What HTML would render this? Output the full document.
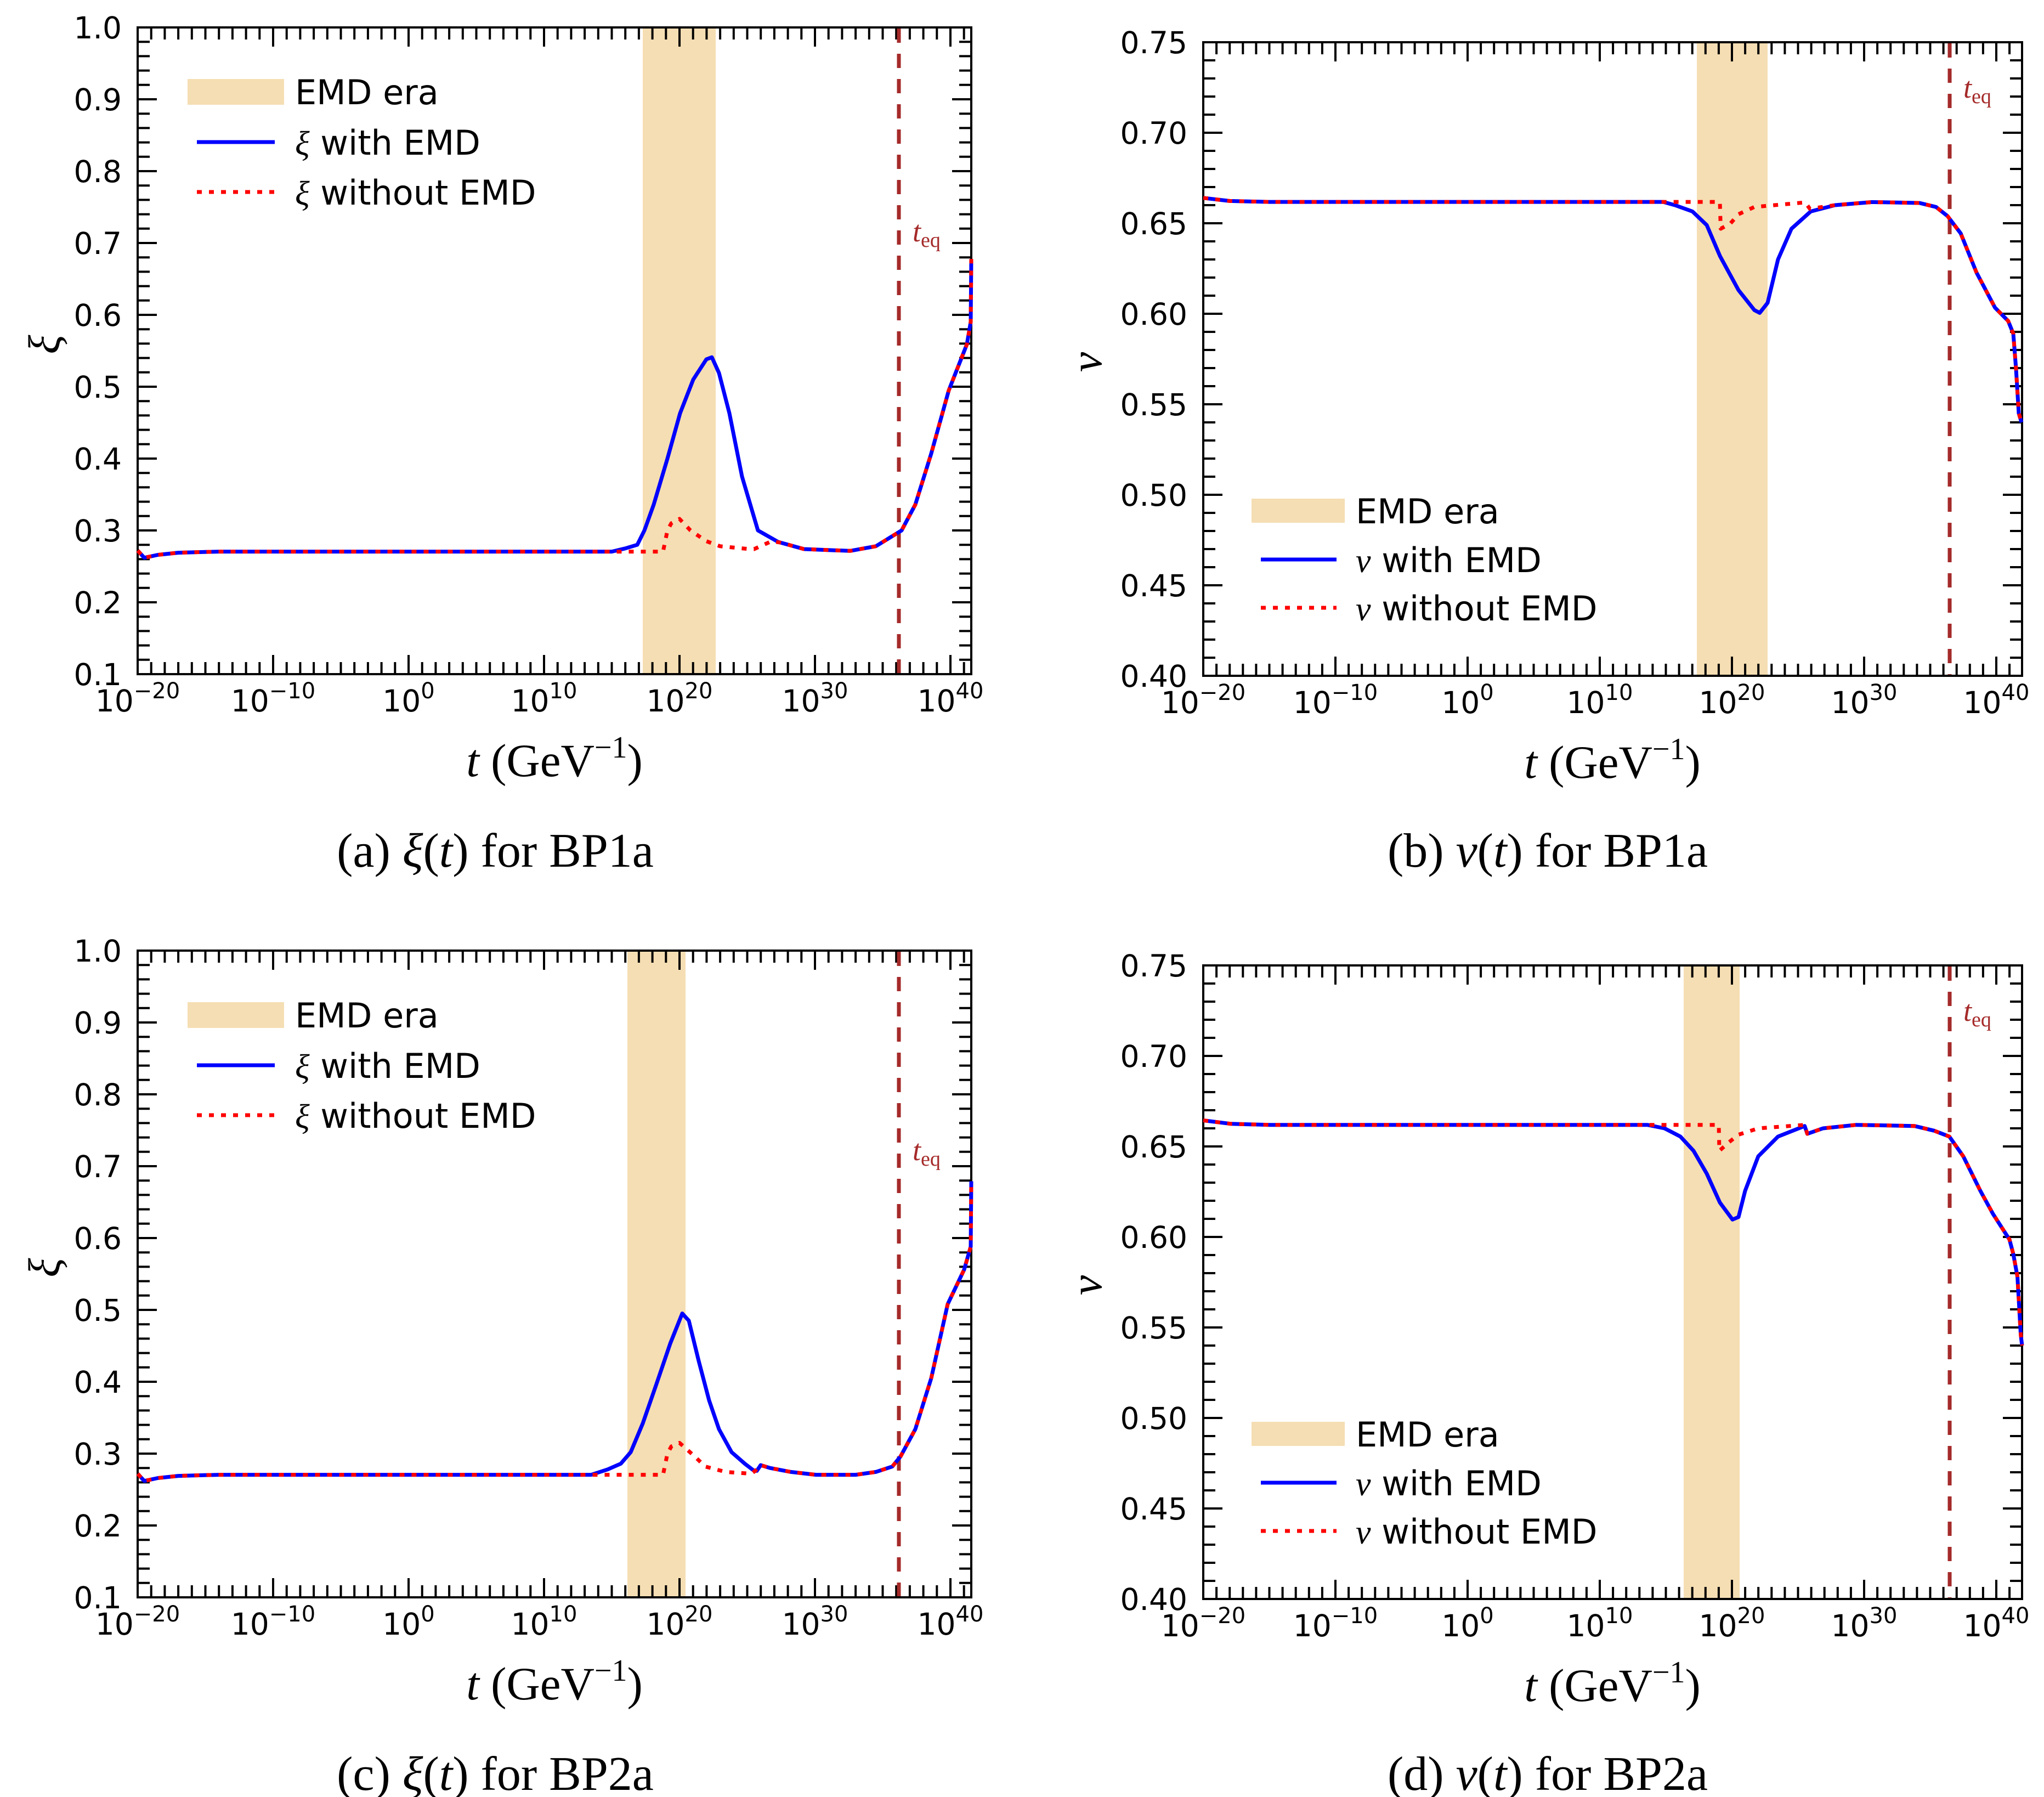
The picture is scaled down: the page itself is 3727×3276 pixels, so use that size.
<!DOCTYPE html>
<html><head><meta charset="utf-8"><style>
html,body{margin:0;padding:0;background:#fff;}
svg{display:block;}
.tk{font-family:"DejaVu Sans","Liberation Sans",sans-serif;font-size:55px;fill:#000;}
.lg{font-family:"DejaVu Sans","Liberation Sans",sans-serif;font-size:62px;fill:#000;}
.mi{font-family:"Liberation Serif","DejaVu Serif",serif;font-style:italic;}
.sf{font-family:"Liberation Serif","DejaVu Serif",serif;fill:#000;}
</style></head><body>
<svg xmlns="http://www.w3.org/2000/svg" xmlns:xlink="http://www.w3.org/1999/xlink" width="3727" height="3276" viewBox="0 0 3727 3276">
<defs>
<g id="axA">
  <path d="M251 1218H1760" stroke="#000" stroke-width="22" stroke-dasharray="4 20.7" stroke-dashoffset="2" fill="none"/>
  <path d="M251 1211.5H1760" stroke="#000" stroke-width="35" stroke-dasharray="4 243" stroke-dashoffset="2" fill="none"/>
  <path d="M251 61H1760" stroke="#000" stroke-width="22" stroke-dasharray="4 20.7" stroke-dashoffset="2" fill="none"/>
  <path d="M251 67.5H1760" stroke="#000" stroke-width="35" stroke-dasharray="4 243" stroke-dashoffset="2" fill="none"/>
  <path d="M262 1229V48" stroke="#000" stroke-width="22" stroke-dasharray="4 22.2" stroke-dashoffset="2" fill="none"/>
  <path d="M268.5 1229V48" stroke="#000" stroke-width="35" stroke-dasharray="4 127" stroke-dashoffset="2" fill="none"/>
  <path d="M1760 1229V48" stroke="#000" stroke-width="22" stroke-dasharray="4 22.2" stroke-dashoffset="2" fill="none"/>
  <path d="M1753.5 1229V48" stroke="#000" stroke-width="35" stroke-dasharray="4 127" stroke-dashoffset="2" fill="none"/>
  <rect x="251" y="50" width="1520" height="1179" fill="none" stroke="#000" stroke-width="4"/>
  <g class="tk" text-anchor="end">
    <text x="222" y="1249">0.1</text><text x="222" y="1118">0.2</text><text x="222" y="987">0.3</text>
    <text x="222" y="856">0.4</text><text x="222" y="725">0.5</text><text x="222" y="594">0.6</text>
    <text x="222" y="463">0.7</text><text x="222" y="332">0.8</text><text x="222" y="201">0.9</text>
    <text x="222" y="70">1.0</text>
  </g>
  <g class="tk" text-anchor="middle">
    <text x="251" y="1297">10<tspan font-size="40" dy="-24">−20</tspan></text>
    <text x="498" y="1297">10<tspan font-size="40" dy="-24">−10</tspan></text>
    <text x="745" y="1297">10<tspan font-size="40" dy="-24">0</tspan></text>
    <text x="992" y="1297">10<tspan font-size="40" dy="-24">10</tspan></text>
    <text x="1239" y="1297">10<tspan font-size="40" dy="-24">20</tspan></text>
    <text x="1486" y="1297">10<tspan font-size="40" dy="-24">30</tspan></text>
    <text x="1733" y="1297">10<tspan font-size="40" dy="-24">40</tspan></text>
  </g>
  <text class="sf" x="1011" y="1415" font-size="85" text-anchor="middle"><tspan font-style="italic">t</tspan> (GeV<tspan font-size="56" dy="-34">−1</tspan><tspan dy="34">)</tspan></text>
  <text class="sf mi" x="0" y="0" font-size="82" text-anchor="middle" transform="translate(108,628) rotate(-90)">ξ</text>
  <line x1="1639" y1="52" x2="1639" y2="1227" stroke="#a52a2a" stroke-width="7" stroke-dasharray="26 20"/>
  <rect x="342" y="144" width="176" height="47" fill="#f5deb3"/>
  <line x1="359" y1="259" x2="501" y2="259" stroke="#0000ff" stroke-width="7"/>
  <line x1="359" y1="350" x2="501" y2="350" stroke="#ff0000" stroke-width="7" stroke-dasharray="9 13"/>
  <text class="lg" x="538" y="190">EMD era</text>
  <text class="lg" x="538" y="282"><tspan class="mi">ξ</tspan> with EMD</text>
  <text class="lg" x="538" y="373"><tspan class="mi">ξ</tspan> without EMD</text>
</g>
<g id="axB">
  <path d="M2194 1221H3687" stroke="#000" stroke-width="22" stroke-dasharray="4 20.1" stroke-dashoffset="2" fill="none"/>
  <path d="M2194 1214.5H3687" stroke="#000" stroke-width="35" stroke-dasharray="4 237" stroke-dashoffset="2" fill="none"/>
  <path d="M2194 88H3687" stroke="#000" stroke-width="22" stroke-dasharray="4 20.1" stroke-dashoffset="2" fill="none"/>
  <path d="M2194 94.5H3687" stroke="#000" stroke-width="35" stroke-dasharray="4 237" stroke-dashoffset="2" fill="none"/>
  <path d="M2205 1232V75" stroke="#000" stroke-width="22" stroke-dasharray="4 29" stroke-dashoffset="2" fill="none"/>
  <path d="M2211.5 1232V75" stroke="#000" stroke-width="35" stroke-dasharray="4 161" stroke-dashoffset="2" fill="none"/>
  <path d="M3676 1232V75" stroke="#000" stroke-width="22" stroke-dasharray="4 29" stroke-dashoffset="2" fill="none"/>
  <path d="M3669.5 1232V75" stroke="#000" stroke-width="35" stroke-dasharray="4 161" stroke-dashoffset="2" fill="none"/>
  <rect x="2194" y="77" width="1493" height="1155" fill="none" stroke="#000" stroke-width="4"/>
  <g class="tk" text-anchor="end">
    <text x="2165" y="1252">0.40</text><text x="2165" y="1087">0.45</text><text x="2165" y="922">0.50</text>
    <text x="2165" y="757">0.55</text><text x="2165" y="592">0.60</text><text x="2165" y="427">0.65</text>
    <text x="2165" y="262">0.70</text><text x="2165" y="97">0.75</text>
  </g>
  <g class="tk" text-anchor="middle">
    <text x="2194" y="1300">10<tspan font-size="40" dy="-24">−20</tspan></text>
    <text x="2435" y="1300">10<tspan font-size="40" dy="-24">−10</tspan></text>
    <text x="2676" y="1300">10<tspan font-size="40" dy="-24">0</tspan></text>
    <text x="2917" y="1300">10<tspan font-size="40" dy="-24">10</tspan></text>
    <text x="3158" y="1300">10<tspan font-size="40" dy="-24">20</tspan></text>
    <text x="3399" y="1300">10<tspan font-size="40" dy="-24">30</tspan></text>
    <text x="3640" y="1300">10<tspan font-size="40" dy="-24">40</tspan></text>
  </g>
  <text class="sf" x="2940" y="1418" font-size="85" text-anchor="middle"><tspan font-style="italic">t</tspan> (GeV<tspan font-size="56" dy="-34">−1</tspan><tspan dy="34">)</tspan></text>
  <text class="sf mi" x="0" y="0" font-size="82" text-anchor="middle" transform="translate(2008,660) rotate(-90)">v</text>
  <line x1="3555" y1="79" x2="3555" y2="1230" stroke="#a52a2a" stroke-width="7" stroke-dasharray="26 20"/>
  <rect x="2282" y="909" width="170" height="44" fill="#f5deb3"/>
  <line x1="2299" y1="1020" x2="2437" y2="1020" stroke="#0000ff" stroke-width="7"/>
  <line x1="2299" y1="1108" x2="2437" y2="1108" stroke="#ff0000" stroke-width="7" stroke-dasharray="9 13"/>
  <text class="lg" x="2472" y="954">EMD era</text>
  <text class="lg" x="2472" y="1043"><tspan class="mi">v</tspan> with EMD</text>
  <text class="lg" x="2472" y="1131"><tspan class="mi">v</tspan> without EMD</text>
</g>
</defs>

<rect x="1172" y="52" width="133" height="1175" fill="#f5deb3"/>
<rect x="1144" y="1735" width="106" height="1175" fill="#f5deb3"/>
<rect x="3094" y="79" width="129" height="1151" fill="#f5deb3"/>
<rect x="3070" y="1762" width="102" height="1151" fill="#f5deb3"/>

<use xlink:href="#axA"/>
<use xlink:href="#axA" y="1683"/>
<use xlink:href="#axB"/>
<use xlink:href="#axB" y="1683"/>

<g fill="none" stroke-linejoin="round" stroke-linecap="butt">
<polyline stroke="#0000ff" stroke-width="7" points="251,1003.7 263,1016.8 288,1011.5 325,1007.6 399,1005.6 1115.5,1005.6 1140,999.8 1162,993.2 1175,967 1192,919.8 1217,836 1240,753.5 1264,692 1288,655 1298,651.3 1311,680 1330,753.5 1353,868.8 1382,967 1419,988 1466,1001 1550,1004.3 1597,995.8 1644,967 1669,919.8 1698,826.8 1730,711.6 1763,627.7 1770,587 1771,472"/>
<polyline stroke="#ff0000" stroke-width="7" stroke-dasharray="9 13" points="251,1003.7 263,1016.8 288,1011.5 325,1007.6 399,1005.6 1209,1005.6 1217,967 1224,954 1239,946 1259,967 1288,986.6 1313,995.8 1367,1001 1375,1001 1407,986.6 1424,989.3 1466,1001 1550,1004.3 1597,995.8 1644,967 1669,919.8 1698,826.8 1730,711.6 1763,627.7 1770,587 1771,472"/>
<polyline stroke="#0000ff" stroke-width="7" points="251,2686.7 263,2699.8 288,2694.5 325,2690.6 399,2688.6 1078,2688.6 1108,2678.8 1132,2668.3 1150,2647.4 1172,2595 1197,2523 1222,2449.6 1244,2394.5 1256,2407.6 1274,2481 1293,2553 1311,2605.5 1334,2647.4 1358,2668.3 1375,2681.4 1380,2681.4 1387,2671 1404,2676.2 1442,2683.4 1488,2688.6 1560,2688.6 1597,2683.4 1627,2673.6 1642,2655.2 1669,2605.5 1698,2512.5 1728,2377.5 1758,2314.6 1770,2272.7 1771,2153.5"/>
<polyline stroke="#ff0000" stroke-width="7" stroke-dasharray="9 13" points="251,2686.7 263,2699.8 288,2694.5 325,2690.6 399,2688.6 1209,2688.6 1217,2650 1224,2637 1239,2630.4 1264,2652.6 1286,2673.6 1323,2683.4 1370,2686.7 1377,2681.4 1387,2671 1404,2676.2 1442,2683.4 1488,2688.6 1560,2688.6 1597,2683.4 1627,2673.6 1642,2655.2 1669,2605.5 1698,2512.5 1728,2377.5 1758,2314.6 1770,2272.7 1771,2153.5"/>
<polyline stroke="#0000ff" stroke-width="7" points="2194,360.8 2242,366.4 2314.5,368.1 3032.7,368.1 3054,374 3086,385.5 3112,410.3 3136,466.4 3170,529 3199,565.4 3208.6,570.4 3223,552.2 3242,473 3266.5,417 3301.6,385.5 3346,374 3413.5,368.4 3500,370 3530,377.3 3551,393.8 3575,425.2 3604,497 3637.6,560.8 3661.7,585.2 3671,608.3 3676,672.3 3681,753.5 3686,770"/>
<polyline stroke="#ff0000" stroke-width="7" stroke-dasharray="9 13" points="2194,360.8 2242,366.4 2314.5,368.1 3136,368.1 3137.5,417 3155.6,407 3170,390.5 3199,377.3 3291.8,369 3300,380.6 3346,374 3413.5,368.4 3500,370 3530,377.3 3551,393.8 3575,425.2 3604,497 3637.6,560.8 3661.7,585.2 3671,608.3 3676,672.3 3681,753.5 3686,770"/>
<polyline stroke="#0000ff" stroke-width="7" points="2194,2042.5 2244.6,2048.8 2314.5,2050.7 3003.8,2050.7 3035,2057 3064,2072 3088,2098 3112,2139.5 3136,2192.3 3159,2223.3 3170,2218.7 3182,2171 3206,2108 3242,2072 3290.6,2052.7 3295.4,2067 3324,2057 3384.5,2050.7 3490.6,2052.7 3526.7,2061.3 3554.4,2072 3579.8,2108 3611,2171 3634,2213 3664,2259.6 3671,2286 3678.6,2327.6 3684.6,2433 3687,2453"/>
<polyline stroke="#ff0000" stroke-width="7" stroke-dasharray="9 13" points="2194,2042.5 2244.6,2048.8 2314.5,2050.7 3134,2050.7 3135,2098 3153,2082 3170,2068.5 3206,2057 3290.6,2050.7 3295.4,2067 3324,2057 3384.5,2050.7 3490.6,2052.7 3526.7,2061.3 3554.4,2072 3579.8,2108 3611,2171 3634,2213 3664,2259.6 3671,2286 3678.6,2327.6 3684.6,2433 3687,2453"/>
</g>

<g class="sf" style="fill:#a52a2a">
<text x="1664" y="440" font-size="54" fill="#a52a2a"><tspan font-style="italic">t</tspan><tspan font-size="38" dy="10">eq</tspan></text>
<text x="1664" y="2115" font-size="54" fill="#a52a2a"><tspan font-style="italic">t</tspan><tspan font-size="38" dy="10">eq</tspan></text>
<text x="3580" y="178" font-size="54" fill="#a52a2a"><tspan font-style="italic">t</tspan><tspan font-size="38" dy="10">eq</tspan></text>
<text x="3580" y="1861" font-size="54" fill="#a52a2a"><tspan font-style="italic">t</tspan><tspan font-size="38" dy="10">eq</tspan></text>
</g>

<g class="sf" font-size="88" text-anchor="middle">
<text x="903" y="1580">(a) <tspan font-style="italic">ξ</tspan>(<tspan font-style="italic">t</tspan>) for BP1a</text>
<text x="2822" y="1580">(b) <tspan font-style="italic">v</tspan>(<tspan font-style="italic">t</tspan>) for BP1a</text>
<text x="903" y="3263">(c) <tspan font-style="italic">ξ</tspan>(<tspan font-style="italic">t</tspan>) for BP2a</text>
<text x="2822" y="3263">(d) <tspan font-style="italic">v</tspan>(<tspan font-style="italic">t</tspan>) for BP2a</text>
</g>
</svg>
</body></html>
